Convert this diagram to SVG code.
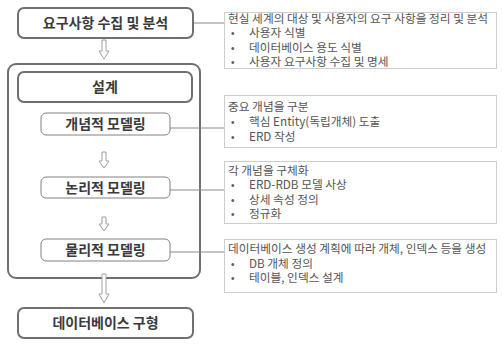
<svg xmlns="http://www.w3.org/2000/svg" width="502" height="346" viewBox="0 0 502 346">
<style>
.bx{fill:#fff;stroke:#707070;stroke-width:2}
.sb{fill:#fff;stroke:#808080;stroke-width:1}
.nt{fill:#fff;stroke:#9a9a9a;stroke-width:1;stroke-dasharray:1 1}
.cn{stroke:#8a8a8a;stroke-width:1;fill:none}
.ar{fill:#fff;stroke:#a0a0a0;stroke-width:1}
.lb{font-family:"Noto Sans CJK KR","Noto Sans",sans-serif;font-size:14px;font-weight:bold;fill:#3a3a3a;text-anchor:middle}
.tx{font-family:"Noto Sans CJK KR","Noto Sans",sans-serif;font-size:11.7px;fill:#555}
.bu{font-family:"Liberation Sans",sans-serif;font-size:10px;fill:#555}
</style>
<g id="design">
<rect class="bx" x="8" y="64" width="192" height="214" rx="8"/>
</g>
<g id="connectors">
<line class="cn" x1="193" y1="23" x2="224" y2="23"/>
<line class="cn" x1="170" y1="128" x2="224" y2="128"/>
<line class="cn" x1="170" y1="190" x2="224" y2="190"/>
<line class="cn" x1="170" y1="252" x2="224" y2="252"/>
<path class="ar" d="M102 40 H106 V51 H109 L104 59 L99 51 H102 Z"/>
<path class="ar" d="M102 152 H106 V161 H109 L104 168 L99 161 H102 Z"/>
<path class="ar" d="M102 217 H106 V224 H109 L104 231 L99 224 H102 Z"/>
<path class="ar" d="M102 274 H106 V294 H109 L104 303 L99 294 H102 Z"/>
</g>
<g id="req">
<rect class="bx" x="18" y="8" width="175" height="30" rx="6"/>
<text class="lb" x="105.5" y="28">요구사항 수집 및 분석</text>
</g>
<g id="design-title">
<rect class="bx" x="18" y="72" width="174" height="30" rx="6"/>
<text class="lb" x="105" y="92">설계</text>
</g>
<g id="conceptual">
<rect class="sb" x="41" y="113" width="129" height="22" rx="5"/>
<text class="lb" x="105.5" y="129">개념적 모델링</text>
</g>
<g id="logical">
<rect class="sb" x="41" y="177" width="129" height="21" rx="5"/>
<text class="lb" x="105.5" y="192.5">논리적 모델링</text>
</g>
<g id="physical">
<rect class="sb" x="41" y="239" width="129" height="22" rx="5"/>
<text class="lb" x="105.5" y="255">물리적 모델링</text>
</g>
<g id="impl">
<rect class="bx" x="18" y="308" width="175" height="30" rx="6"/>
<text class="lb" x="105.5" y="328">데이터베이스 구형</text>
</g>
<g id="note1">
<rect class="nt" x="224.5" y="12.5" width="272" height="56"/>
<text class="tx" x="228" y="22.5">현실 세계의 대상 및 사용자의 요구 사항을 정리 및 분석</text>
<text class="bu" x="231" y="37">•</text><text class="tx" x="249" y="37">사용자 식별</text>
<text class="bu" x="231" y="51.5">•</text><text class="tx" x="249" y="51.5">데이터베이스 용도 식별</text>
<text class="bu" x="231" y="66">•</text><text class="tx" x="249" y="66">사용자 요구사항 수집 및 명세</text>
</g>
<g id="note2">
<rect class="nt" x="224.5" y="95.5" width="272" height="52"/>
<text class="tx" x="228" y="111">중요 개념을 구분</text>
<text class="bu" x="231" y="126">•</text><text class="tx" x="249" y="126">핵심 Entity(독립개체) 도출</text>
<text class="bu" x="231" y="141">•</text><text class="tx" x="249" y="141">ERD 작성</text>
</g>
<g id="note3">
<rect class="nt" x="224.5" y="161.5" width="272" height="62"/>
<text class="tx" x="228" y="175">각 개념을 구체화</text>
<text class="bu" x="231" y="189">•</text><text class="tx" x="249" y="189">ERD-RDB 모델 사상</text>
<text class="bu" x="231" y="204">•</text><text class="tx" x="249" y="204">상세 속성 정의</text>
<text class="bu" x="231" y="218">•</text><text class="tx" x="249" y="218">정규화</text>
</g>
<g id="note4">
<rect class="nt" x="224.5" y="239.5" width="272" height="53"/>
<text class="tx" x="228" y="253">데이터베이스 생성 계획에 따라 개체, 인덱스 등을 생성</text>
<text class="bu" x="231" y="268">•</text><text class="tx" x="249" y="268">DB 개체 정의</text>
<text class="bu" x="231" y="282">•</text><text class="tx" x="249" y="282">테이블, 인덱스 설계</text>
</g>
</svg>
